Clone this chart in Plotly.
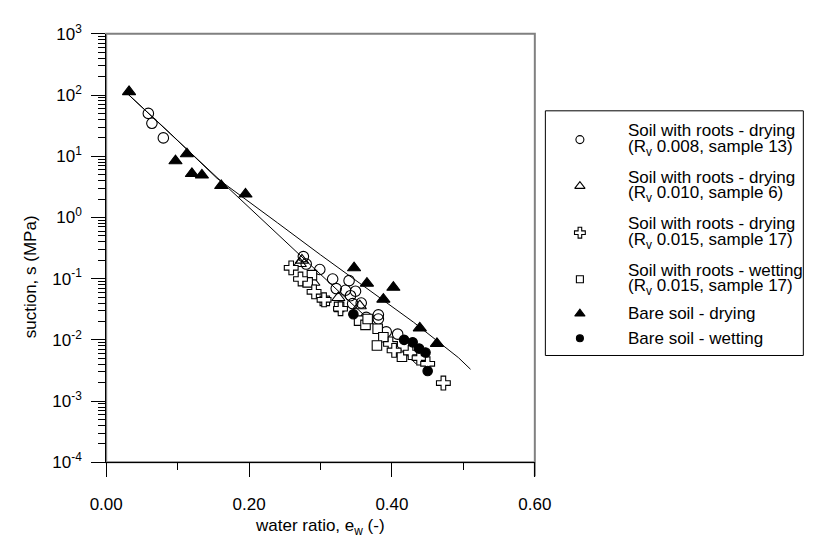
import plotly.graph_objects as go

W, H = 828, 543

# ---------------- data ----------------
roots13_x = [0.059, 0.064, 0.080, 0.276, 0.280, 0.299, 0.317, 0.340, 0.322, 0.335, 0.349,
             0.342, 0.357, 0.345, 0.381, 0.381, 0.364, 0.392, 0.408]
roots13_s = [50, 34.5, 19.9, 0.229, 0.173, 0.141, 0.0986, 0.0927, 0.0687, 0.0646, 0.0623,
             0.0526, 0.040, 0.039, 0.0256, 0.0219, 0.0233, 0.0135, 0.0124]

roots6_x = [0.271, 0.274, 0.290, 0.325, 0.355]
roots6_s = [0.176, 0.20, 0.087, 0.049, 0.036]

roots17d_x = [0.259, 0.272, 0.291, 0.305, 0.328, 0.398, 0.403, 0.426, 0.438, 0.450, 0.472]
roots17d_s = [0.150, 0.0986, 0.0608, 0.0451, 0.0322, 0.00857, 0.00673, 0.0062, 0.00504,
              0.00406, 0.00197]

roots17w_x = [0.288, 0.282, 0.306, 0.326, 0.354, 0.363, 0.366, 0.380, 0.388, 0.379, 0.414]
roots17w_s = [0.114, 0.087, 0.0434, 0.0346, 0.0206, 0.0176, 0.0219, 0.0152, 0.0110, 0.0081,
              0.0053]

bare_dry_x = [0.032, 0.097, 0.113, 0.120, 0.134, 0.161, 0.195, 0.347, 0.365, 0.402, 0.388,
              0.439, 0.463]
bare_dry_s = [113, 8.4, 10.9, 5.2, 4.9, 3.3, 2.4, 0.15, 0.084, 0.072, 0.046, 0.0156, 0.0087]

bare_wet_x = [0.346, 0.417, 0.429, 0.438, 0.447, 0.450]
bare_wet_s = [0.0262, 0.0100, 0.0091, 0.0072, 0.0062, 0.0031]

# fitted curves
fit_roots_x = [0.031, 0.434]
fit_roots_s = [102, 0.00405]
fit_bare_x = [0.031, 0.09, 0.155, 0.211, 0.240, 0.30, 0.37, 0.43, 0.493, 0.510]
fit_bare_s = [101.9, 23.4, 4.37, 1.41, 0.813, 0.245, 0.0617, 0.0195, 0.00513, 0.00331]

x_tick_vals = [0.0, 0.2, 0.4, 0.6]
x_tick_text = ["0.00", "0.20", "0.40", "0.60"]
y_tick_vals = [1e-4, 1e-3, 1e-2, 1e-1, 1, 10, 100, 1000]
y_tick_text = ["10<sup>-4</sup>", "10<sup>-3</sup>", "10<sup>-2</sup>", "10<sup>-1</sup>",
               "10<sup>0</sup>", "10<sup>1</sup>", "10<sup>2</sup>", "10<sup>3</sup>"]

legend_lines = [
    ("Soil with roots - drying", "(R<sub>v</sub> 0.008, sample 13)"),
    ("Soil with roots - drying", "(R<sub>v</sub> 0.010, sample 6)"),
    ("Soil with roots - drying", "(R<sub>v</sub> 0.015, sample 17)"),
    ("Soil with roots - wetting", "(R<sub>v</sub> 0.015, sample 17)"),
    ("Bare soil - drying", None),
    ("Bare soil - wetting", None),
]

FONT = "Arial, Liberation Sans, sans-serif"

# ---------------- layout helpers (pixel -> paper) ----------------
def PX(p):
    return p / W

def PY(q):
    return 1 - q / H

L, R, T, B = 93, 540, 22.7, 469.3

fig = go.Figure()

# fits
fig.add_trace(go.Scatter(x=fit_roots_x, y=fit_roots_s, mode="lines",
                         line=dict(color="black", width=1), showlegend=False))
fig.add_trace(go.Scatter(x=fit_bare_x, y=fit_bare_s, mode="lines",
                         line=dict(color="black", width=1), showlegend=False))

styles = [
    (roots13_x, roots13_s, "circle-open", 10.5, "black"),
    (roots6_x, roots6_s, "triangle-up-open", 11.5, "black"),
    (roots17w_x, roots17w_s, "square", 9.5, "white"),
    (roots17d_x, roots17d_s, "cross", 11.5, "white"),
    (bare_dry_x, bare_dry_s, "triangle-up", 11.5, "black"),
    (bare_wet_x, bare_wet_s, "circle", 9.5, "black"),
]
for xs, ys, sym, sz, col in styles:
    fig.add_trace(go.Scatter(x=xs, y=ys, mode="markers",
                             marker=dict(symbol=sym, size=sz, color=col,
                                         line=dict(color="black", width=1.1)),
                             showlegend=False))

# legend symbols (overlay pixel axes)
leg_sym = [("circle-open", 8, "black"), ("triangle-up-open", 9, "black"),
           ("cross", 9, "white"), ("square", 7, "white"),
           ("triangle-up", 9, "black"), ("circle", 7, "black")]
leg_y = [133, 181.5, 230, 278.5, 314.5, 340]
for (sym, sz, col), yy in zip(leg_sym, leg_y):
    fig.add_trace(go.Scatter(x=[587], y=[yy], xaxis="x2", yaxis="y2", mode="markers",
                             marker=dict(symbol=sym, size=sz, color=col,
                                         line=dict(color="black", width=1.1)),
                             showlegend=False))

annotations = []
def text_at(y, txt):
    annotations.append(dict(x=PX(635), y=PY(y), xref="paper", yref="paper", text=txt,
                            showarrow=False, xanchor="left", yanchor="middle",
                            font=dict(size=17, color="black", family=FONT)))

for (l1, l2), yy in zip(legend_lines, leg_y):
    if l2 is None:
        text_at(yy, l1)
    else:
        text_at(yy - 9.5, l1)
        text_at(yy + 8.5, l2)

annotations.append(dict(x=PX(14), y=PY(276), xref="paper", yref="paper",
                        text="suction, s (MPa)", textangle=-90, showarrow=False,
                        xanchor="center", yanchor="middle",
                        font=dict(size=17, color="black", family=FONT)))
annotations.append(dict(x=PX(316), y=PY(537), xref="paper", yref="paper",
                        text="water ratio, e<sub>w</sub> (-)", showarrow=False,
                        xanchor="center", yanchor="middle",
                        font=dict(size=17, color="black", family=FONT)))

shapes = [
    dict(type="rect", xref="paper", yref="paper", x0=PX(L), x1=PX(R), y0=PY(B), y1=PY(T),
         line=dict(color="#808080", width=2), layer="below"),
    dict(type="line", xref="paper", yref="paper", x0=PX(R), x1=PX(R), y0=PY(B), y1=PY(484),
         line=dict(color="#808080", width=2), layer="below"),
    dict(type="rect", xref="paper", yref="paper", x0=PX(551), x1=PX(820), y0=PY(358), y1=PY(103),
         line=dict(color="black", width=1), fillcolor="rgba(0,0,0,0)", layer="below"),
]

fig.update_layout(
    width=W, height=H,
    margin=dict(l=0, r=0, t=0, b=0),
    paper_bgcolor="white", plot_bgcolor="rgba(0,0,0,0)",
    font=dict(family=FONT, size=17, color="black"),
    showlegend=False,
    xaxis=dict(domain=[PX(L), PX(R)], range=[0, 0.6], tickvals=x_tick_vals, ticktext=x_tick_text,
               ticks="outside", ticklen=14, tickwidth=1, tickcolor="black",
               showline=True, linecolor="black", linewidth=1, showgrid=False, zeroline=False,
               tickfont=dict(size=17), ticklabelstandoff=12,
               minor=dict(ticks="outside", ticklen=7, dtick=0.1, tickcolor="black",
                          showgrid=False)),
    yaxis=dict(domain=[PY(B), PY(T)], type="log", range=[-4, 3], tickvals=y_tick_vals,
               ticktext=y_tick_text, ticks="outside", ticklen=14, tickwidth=1, tickcolor="black",
               showline=True, linecolor="black", linewidth=1, showgrid=False, zeroline=False,
               tickfont=dict(size=17), ticklabelstandoff=6,
               minor=dict(ticks="outside", ticklen=7, dtick="D1", tickcolor="black",
                          showgrid=False)),
    xaxis2=dict(domain=[0, 1], range=[0, W], visible=False, anchor="y2"),
    yaxis2=dict(domain=[0, 1], range=[H, 0], visible=False, anchor="x2"),
    annotations=annotations,
    shapes=shapes,
)

fig.write_html("out.html")
